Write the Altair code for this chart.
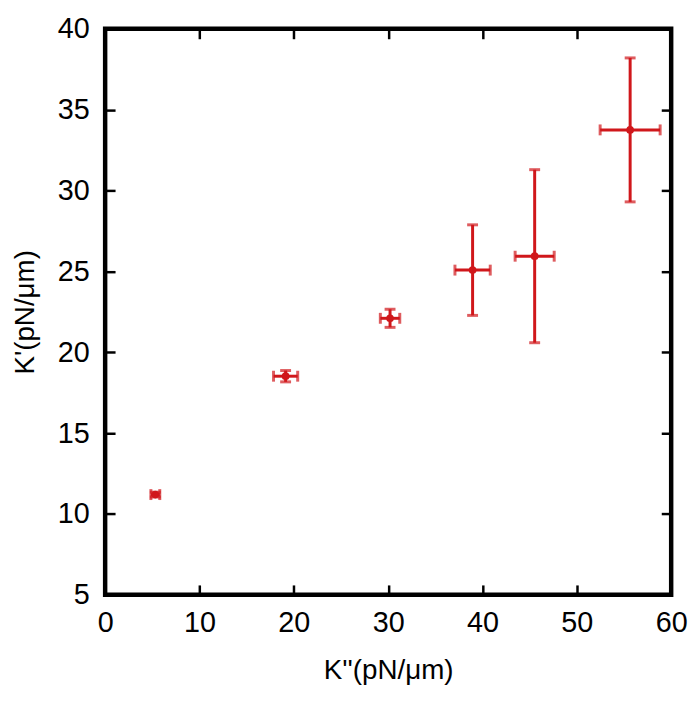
import altair as alt
import pandas as pd

# K'' (x) and K' (y) with their errors
k2 = [5.32, 19.13, 30.2, 38.95, 45.53, 55.65]
k1 = [11.2, 18.52, 22.1, 25.08, 25.94, 33.75]
k2_err = [0.47, 1.28, 1.03, 1.87, 2.07, 3.18]
k1_err = [0.15, 0.35, 0.56, 2.8, 5.35, 4.45]

x_ticks = [0, 10, 20, 30, 40, 50, 60]
y_ticks = [5, 10, 15, 20, 25, 30, 35, 40]

df = pd.DataFrame({"x": k2, "y": k1, "xe": k2_err, "ye": k1_err})
df["xlo"] = df["x"] - df["xe"]
df["xhi"] = df["x"] + df["xe"]
df["ylo"] = df["y"] - df["ye"]
df["yhi"] = df["y"] + df["ye"]

RED = "#d0171b"
FONT = "Liberation Sans"

xscale = alt.Scale(domain=[0, 60], nice=False, zero=False)
yscale = alt.Scale(domain=[5, 40], nice=False, zero=False)

common = dict(domain=False, grid=False, tickSize=10, tickWidth=2.5, tickColor="black",
              offset=-10, labelFont=FONT, titleFont=FONT, labelColor="black", titleColor="black")

x_bottom = alt.Axis(orient="bottom", values=x_ticks, labelFontSize=29, labelPadding=14,
                    labelFlush=False, labelOverlap=False, title="K''(pN/μm)",
                    titleFontSize=28, titleFontWeight="normal", titlePadding=19, **common)
y_left = alt.Axis(orient="left", values=y_ticks, labelFontSize=29, labelPadding=16,
                  labelFlush=False, labelOverlap=False, title="K'(pN/μm)",
                  titleFontSize=28, titleFontWeight="normal", titlePadding=18, **common)
x_top = alt.Axis(orient="top", values=x_ticks, labels=False, title=None, **common)
y_right = alt.Axis(orient="right", values=y_ticks, labels=False, title=None, **common)

base = alt.Chart(df)

hbar = base.mark_rule(color=RED, strokeWidth=3).encode(
    x=alt.X("xlo:Q", scale=xscale, axis=x_bottom),
    x2="xhi:Q",
    y=alt.Y("y:Q", scale=yscale, axis=y_left),
)
vbar = base.mark_rule(color=RED, strokeWidth=3).encode(
    x=alt.X("x:Q", scale=xscale, axis=x_top),
    y=alt.Y("ylo:Q", scale=yscale, axis=y_right),
    y2="yhi:Q",
)
xcap_lo = base.mark_tick(color=RED, orient="vertical", size=11, thickness=3).encode(
    x=alt.X("xlo:Q", scale=xscale, axis=None),
    y=alt.Y("y:Q", scale=yscale, axis=None),
)
xcap_hi = base.mark_tick(color=RED, orient="vertical", size=11, thickness=3).encode(
    x=alt.X("xhi:Q", scale=xscale, axis=None),
    y=alt.Y("y:Q", scale=yscale, axis=None),
)
ycap_lo = base.mark_tick(color=RED, orient="horizontal", size=11, thickness=3).encode(
    x=alt.X("x:Q", scale=xscale, axis=None),
    y=alt.Y("ylo:Q", scale=yscale, axis=None),
)
ycap_hi = base.mark_tick(color=RED, orient="horizontal", size=11, thickness=3).encode(
    x=alt.X("x:Q", scale=xscale, axis=None),
    y=alt.Y("yhi:Q", scale=yscale, axis=None),
)
pts = base.mark_circle(color=RED, size=60, opacity=1).encode(
    x=alt.X("x:Q", scale=xscale, axis=None),
    y=alt.Y("y:Q", scale=yscale, axis=None),
)

chart = alt.layer(hbar, vbar, xcap_lo, xcap_hi, ycap_lo, ycap_hi, pts).resolve_axis(
    x="independent", y="independent"
).properties(
    width=571, height=571,
    autosize=alt.AutoSizeParams(type="none"),
    padding={"left": 98, "top": 18, "right": 20, "bottom": 95},
    background="white",
).configure_view(stroke="black", strokeWidth=4.5)

chart.save("out.html", embed_options={"renderer": "svg", "actions": False})
